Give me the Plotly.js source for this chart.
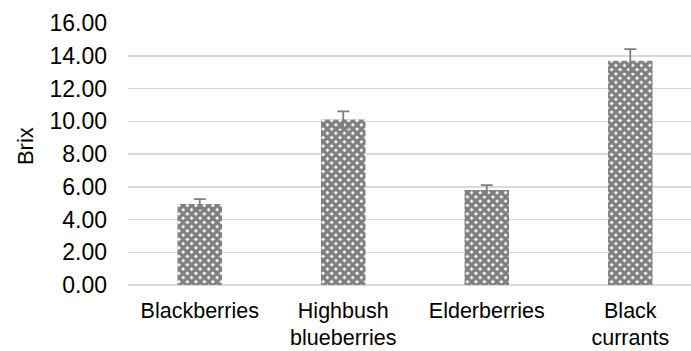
<!DOCTYPE html>
<html>
<head>
<meta charset="utf-8">
<script src="https://cdn.plot.ly/plotly-3.0.1.min.js"></script>
<style>html,body{margin:0;padding:0;overflow:hidden;background:#fff;}</style>
</head>
<body>
<div id="chart" style="width:691px;height:351px;"></div>
<script>
const categories = ["Blackberries", "Highbush<br>blueberries", "Elderberries", "Black<br>currants"];
const brix = [4.95, 10.1, 5.8, 13.7];
const brixErr = [0.3, 0.5, 0.3, 0.7];
const yTickVals = [0, 2, 4, 6, 8, 10, 12, 14, 16];
const yTickText = ["0.00", "2.00", "4.00", "6.00", "8.00", "10.00", "12.00", "14.00", "16.00"];
const yTitle = "Brix";

const trace = {
  type: "bar",
  x: [0, 1, 2, 3],
  y: brix,
  width: 0.31,
  marker: {
    color: "#ffffff",
    line: {width: 0},
    pattern: {shape: "x", size: 6, solidity: 0.8, fgcolor: "#000000", bgcolor: "#ffffff", fillmode: "overlay"}
  },
  error_y: {type: "data", array: brixErr, visible: true, color: "#7f7f7f", thickness: 1.8, width: 6},
  hoverinfo: "skip"
};

const layout = {
  width: 691, height: 351,
  margin: {l: 128, r: 0, t: 23, b: 66},
  paper_bgcolor: "#ffffff", plot_bgcolor: "#ffffff",
  showlegend: false,
  font: {family: "Liberation Sans, Arial, sans-serif", size: 21, color: "#000000"},
  xaxis: {
    range: [-0.5, 3.423],
    tickvals: [0, 1, 2, 3],
    ticktext: categories,
    showgrid: false, zeroline: false, showline: false, ticks: "",
    tickfont: {size: 21.5, color: "#000000"},
    ticklabelstandoff: 10
  },
  yaxis: {
    range: [0, 16],
    tickvals: yTickVals,
    ticktext: yTickText,
    showgrid: true, gridcolor: "#d9d9d9", gridwidth: 1.5,
    zeroline: true, zerolinecolor: "#d9d9d9", zerolinewidth: 1.5,
    showline: false, ticks: "",
    tickfont: {size: 23, color: "#000000"},
    ticklabelstandoff: 20
  },
  annotations: [{
    text: yTitle, textangle: -90, showarrow: false,
    xref: "paper", yref: "paper", x: -0.183, y: 0.53, xanchor: "center", yanchor: "middle",
    font: {size: 22, color: "#000000"}
  }]
};

Plotly.newPlot("chart", [trace], layout, {displayModeBar: false, staticPlot: true});
</script>
</body>
</html>
